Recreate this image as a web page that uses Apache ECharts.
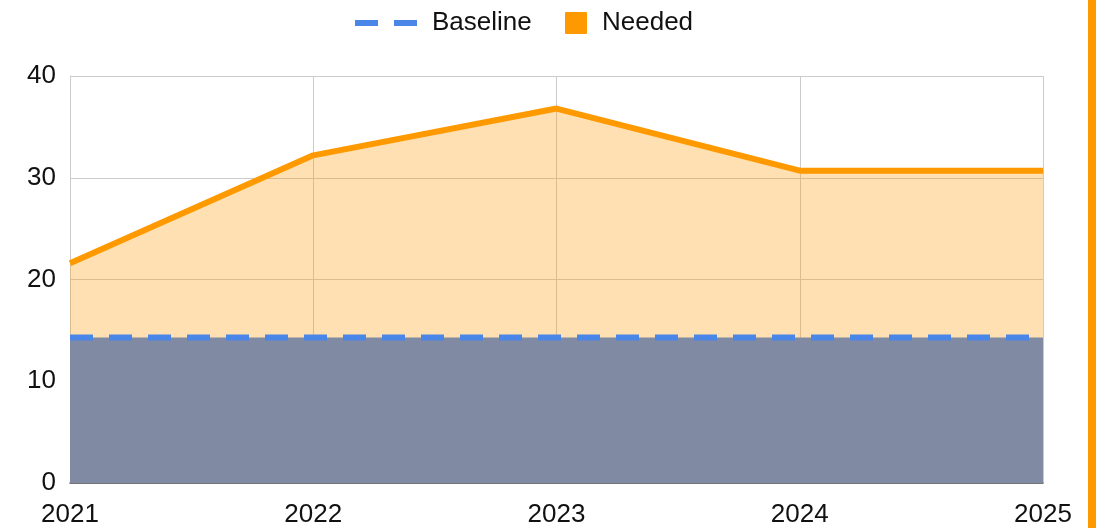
<!DOCTYPE html>
<html>
<head>
<meta charset="utf-8">
<script src="https://cdn.jsdelivr.net/npm/echarts@6/dist/echarts.min.js"></script>
<style>
  html, body { margin: 0; padding: 0; background: #fff; }
  #chart { width: 1104px; height: 528px; }
</style>
</head>
<body>
<div id="chart"></div>
<script>
// data
const years = ['2021', '2022', '2023', '2024', '2025']
const baseline = [14.3, 14.3, 14.3, 14.3, 14.3]
const needed = [21.6, 32.2, 36.8, 30.7, 30.7]

const font = '"Liberation Sans", Arial, sans-serif'
const myChart = echarts.init(document.getElementById('chart'))

const legendText = { fontSize: 26, color: '#111', fontFamily: font, padding: [0, 0, 0, 10] }

const options = {
  animation: false,
  textStyle: { fontFamily: font },
  // two legends so the dashed line icon and the square can have different widths
  legend: [
    {
      data: [{ name: 'Baseline', icon: 'path://M0,0H23V6H0Z M39,0H62V6H39Z' }],
      left: 350,
      top: 5,
      itemWidth: 62,
      itemHeight: 6,
      textStyle: legendText,
    },
    {
      data: [{ name: 'Needed', icon: 'path://M1,0H21A1,1,0,0,1,22,1V21A1,1,0,0,1,21,22H1A1,1,0,0,1,0,21V1A1,1,0,0,1,1,0Z' }],
      left: 560,
      top: 5,
      itemWidth: 22,
      itemHeight: 22,
      textStyle: legendText,
    },
  ],
  grid: {
    left: 70,
    right: 61,
    top: 76,
    bottom: 45,
  },
  xAxis: {
    type: 'category',
    data: years,
    boundaryGap: false,
    axisLine: { lineStyle: { color: '#555', width: 1.5 } },
    axisTick: { show: false },
    axisLabel: { color: '#111', fontSize: 26, margin: 19 },
    splitLine: { show: true, lineStyle: { color: '#cccccc' } },
  },
  yAxis: {
    type: 'value',
    min: 0,
    max: 40,
    interval: 10,
    axisLine: { show: true, lineStyle: { color: '#cccccc' } },
    axisLabel: { color: '#111', fontSize: 26, margin: 14, padding: [4, 0, 0, 0] },
    splitLine: { lineStyle: { color: '#cccccc' } },
  },
  series: [
    {
      name: 'Needed',
      type: 'line',
      data: needed,
      symbol: 'none',
      color: '#ff9900',
      lineStyle: { color: '#ff9900', width: 6 },
      areaStyle: { color: '#ff9900', opacity: 0.3 },
      z: 2,
    },
    {
      name: 'Baseline',
      type: 'line',
      data: baseline,
      symbol: 'none',
      color: '#4a86e8',
      lineStyle: { color: '#4a86e8', width: 6, type: [23, 16] },
      areaStyle: { color: '#808aa3', opacity: 1 },
      z: 3,
    },
  ],
  // orange bar on the right edge
  graphic: [
    {
      type: 'rect',
      right: 8,
      top: 0,
      shape: { width: 8, height: 528 },
      style: { fill: '#ff9900' },
    },
  ],
}
myChart.setOption(options)
</script>
</body>
</html>
